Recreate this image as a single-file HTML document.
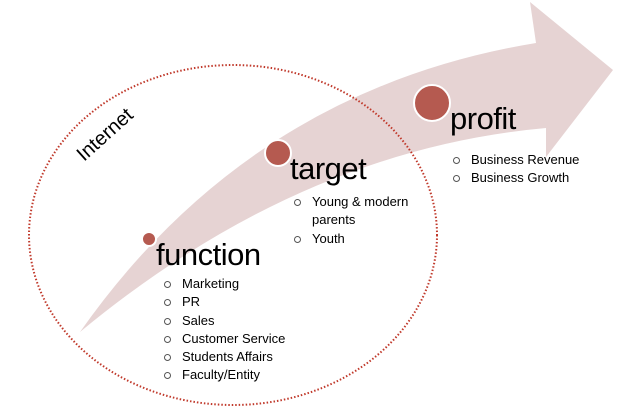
<!DOCTYPE html>
<html><head><style>
body{margin:0;background:#fff;width:620px;height:413px;overflow:hidden;position:relative;font-family:"Liberation Sans",sans-serif}
.t{position:absolute;color:#000;white-space:nowrap}
.h{font-size:31px;line-height:30px;letter-spacing:-0.5px}
.l{font-size:13px;line-height:18.3px}
.l div{position:relative;padding-left:18px}
.l div:before{content:"";position:absolute;left:0;top:6px;width:5px;height:5px;border:1px solid #555;border-radius:50%}
</style></head><body>
<svg width="620" height="413" style="position:absolute;left:0;top:0">
<path d="M80,332 Q250,90 536,43 L530,2 L613,70 L546,157 L546,128 Q300,150 80,332 Z" fill="#e6d3d3"/>
<ellipse cx="233" cy="235" rx="204" ry="170" fill="none" stroke="#c0392b" stroke-width="2" stroke-dasharray="1.5,2"/>
<circle cx="149" cy="239" r="7" fill="#b55a50" stroke="#fff" stroke-width="2"/>
<circle cx="278" cy="153" r="13" fill="#b55a50" stroke="#fff" stroke-width="2"/>
<circle cx="432" cy="103" r="18" fill="#b55a50" stroke="#fff" stroke-width="2"/>
<text x="0" y="0" font-size="20" font-family="Liberation Sans" transform="translate(84,162) rotate(-42)">Internet</text>
</svg>
<div class="t h" style="left:156px;top:240px">function</div>
<div class="t h" style="left:290px;top:154px">target</div>
<div class="t h" style="left:450px;top:104px">profit</div>
<div class="t l" style="left:164px;top:275px"><div>Marketing</div><div>PR</div><div>Sales</div><div>Customer Service</div><div>Students Affairs</div><div>Faculty/Entity</div></div>
<div class="t l" style="left:294px;top:193px"><div>Young &amp; modern<br>parents</div><div>Youth</div></div>
<div class="t l" style="left:453px;top:151px"><div>Business Revenue</div><div>Business Growth</div></div>
</body></html>
